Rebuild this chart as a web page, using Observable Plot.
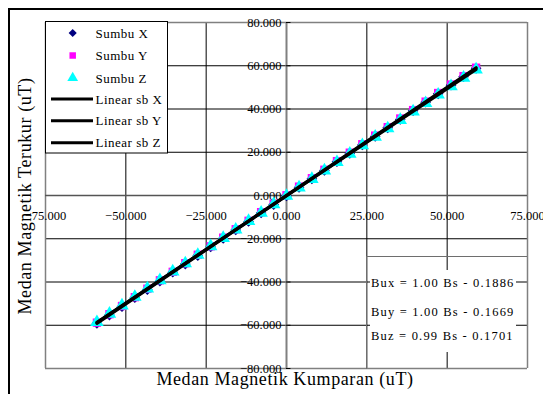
<!DOCTYPE html>
<html><head><meta charset="utf-8">
<script src="https://cdn.jsdelivr.net/npm/d3@7"></script>
<script src="https://cdn.jsdelivr.net/npm/@observablehq/plot@0.6"></script>
<style>
body{margin:0;background:#fff;}
#wrap{position:relative;width:543px;height:394px;overflow:hidden;font-family:"Liberation Serif","Times New Roman",serif;color:#000;}
#wrap > svg.mainplot{position:absolute;left:0;top:0;}
#outer{position:absolute;left:8px;top:8px;width:700px;height:600px;border-left:2.5px solid #000;border-top:2.5px solid #000;}
#wrap > svg#legend{position:absolute;left:45px;top:21px;}
#eqbox{position:absolute;left:366px;top:256px;width:160px;height:112px;border-left:1px solid #6e6e6e;border-top:1px solid #6e6e6e;}
#eqtext{position:absolute;left:370px;top:270px;width:146px;height:82px;background:#fff;}
.eq{position:absolute;left:371px;font-size:12.5px;letter-spacing:1.2px;white-space:nowrap;line-height:14px;}
.title{position:absolute;font-size:18px;letter-spacing:0.6px;line-height:18px;height:18px;text-align:center;white-space:nowrap;}
#xtitle{left:85px;width:400px;top:370px;}
#ytitle{left:-125px;width:300px;top:187px;transform:rotate(-90deg);transform-origin:50% 50%;}
</style></head>
<body><div id="wrap"><div id="outer"></div></div>
<script>
// ---- data ----
const xs = [-59.0,-55.1,-51.2,-47.2,-43.3,-39.4,-35.4,-31.5,-27.6,-23.6,-19.7,-15.8,-11.8,-7.9,-4.0,0.0,3.9,7.9,11.8,15.7,19.7,23.6,27.6,31.5,35.4,39.4,43.3,47.2,51.2,55.1,59.0];
const sumbuX = [-59.1,-55.3,-51.4,-47.3,-43.5,-39.6,-35.5,-31.7,-27.8,-23.8,-19.9,-15.9,-12.0,-8.1,-4.2,-0.2,3.7,7.7,11.6,15.6,19.5,23.4,27.3,31.3,35.2,39.2,43.1,47.0,51.0,54.9,58.8];
const sumbuY = [-58.8,-54.9,-51.1,-47.0,-43.1,-39.2,-35.3,-31.3,-27.4,-23.5,-19.5,-15.6,-11.7,-7.7,-3.8,0.1,4.1,8.0,11.9,15.9,19.8,23.7,27.7,31.6,35.6,39.5,43.4,47.4,51.3,55.2,59.1];
const sumbuZ = [-58.6,-54.7,-50.9,-46.9,-43.0,-39.2,-35.2,-31.4,-27.5,-23.5,-19.7,-15.8,-11.8,-8.0,-4.1,-0.2,3.7,7.6,11.5,15.4,19.3,23.2,27.1,31.0,34.9,38.8,42.7,46.6,50.5,54.4,58.2];
const xTicks = [-75,-50,-25,0,25,50,75];
const yTicks = [-80,-60,-40,-20,0,20,40,60,80];
const legendLabels = ["Sumbu X","Sumbu Y","Sumbu Z","Linear sb X","Linear sb Y","Linear sb Z"];
const equations = ["Bux = 1.00 Bs - 0.1886","Buy = 1.00 Bs - 0.1669","Buz = 0.99 Bs - 0.1701"];
const xTitle = "Medan Magnetik Kumparan (uT)";
const yTitle = "Medan Magnetik Terukur (uT)";

const fmt = d3.format(".3f");
const rows = (ys) => xs.map((x, i) => ({x, y: ys[i]}));
const dX = rows(sumbuX), dY = rows(sumbuY), dZ = rows(sumbuZ);
const font = "'Liberation Serif', 'Times New Roman', serif";
const gray = "#808080";

const chart = Plot.plot({
  width: 543, height: 394,
  marginLeft: 45, marginRight: 16, marginTop: 22, marginBottom: 26,
  x: {domain: [-75, 75], axis: null},
  y: {domain: [-80, 80], axis: null},
  style: {fontFamily: font, background: "transparent", overflow: "visible"},
  marks: [
    Plot.ruleX(xTicks.filter(d => Math.abs(d) !== 75 && d !== 0), {stroke: "#000", strokeWidth: 1}),
    Plot.ruleY(yTicks.filter(d => Math.abs(d) !== 80 && d !== 0), {stroke: "#000", strokeWidth: 1}),
    Plot.ruleX(xTicks.filter(d => Math.abs(d) === 75), {stroke: gray, strokeWidth: 1.5}),
    Plot.ruleY(yTicks.filter(d => Math.abs(d) === 80), {stroke: gray, strokeWidth: 1.5}),
    Plot.ruleY([0], {stroke: "#555", strokeWidth: 1.5}),
    Plot.ruleX([0], {stroke: gray, strokeWidth: 2}),
    Plot.ruleY(yTicks, {x1: 0, x2: 1.4, stroke: "#000", strokeWidth: 1}),
    Plot.text(xTicks, {x: d => d, y: 0, text: d => fmt(d), dy: 20, fontSize: 12.5, fontFamily: font, fill: "#000", ariaLabel: "ticklabel"}),
    Plot.text(yTicks, {x: 0, y: d => d, text: d => fmt(d), dx: -5, textAnchor: "end", fontSize: 12.5, fontFamily: font, fill: "#000", ariaLabel: "ticklabel"}),
    Plot.dot(dX, {x: "x", y: "y", symbol: "diamond2", r: 4.8, fill: "#000080", stroke: "none"}),
    Plot.dot(dY, {x: "x", y: "y", symbol: "square", r: 4.7, fill: "#ff00ff", stroke: "none"}),
    Plot.dot(dZ, {x: "x", y: "y", symbol: "triangle", r: 5, fill: "#00ffff", stroke: "none"}),
    Plot.linearRegressionY(dX, {x: "x", y: "y", stroke: "#000", strokeWidth: 3, ci: 0}),
    Plot.linearRegressionY(dY, {x: "x", y: "y", stroke: "#000", strokeWidth: 3, ci: 0}),
    Plot.linearRegressionY(dZ, {x: "x", y: "y", stroke: "#000", strokeWidth: 3, ci: 0})
  ]
});
chart.classList.add("mainplot");
d3.select(chart).selectAll("g[aria-label='ticklabel'] text").style("letter-spacing", "0.4px");
const wrap = document.getElementById("wrap");
wrap.appendChild(chart);

// axis titles
d3.select(wrap).append("div").attr("class", "title").attr("id", "xtitle").text(xTitle);
d3.select(wrap).append("div").attr("class", "title").attr("id", "ytitle").text(yTitle);

// legend
const lg = d3.select(wrap).append("svg").attr("id", "legend").attr("width", 124).attr("height", 133)
  .style("font-family", font);
lg.append("rect").attr("x", 0.5).attr("y", 0.5).attr("width", 122).attr("height", 131.5)
  .attr("fill", "#fff").attr("stroke", "#000");
const ly = [12, 34.5, 57, 78, 99.7, 121.7];
const symbols = [d3.symbolDiamond2, d3.symbolSquare, d3.symbolTriangle];
const symColors = ["#000080", "#ff00ff", "#00ffff"];
legendLabels.forEach((lab, i) => {
  if (i < 3) {
    lg.append("path").attr("transform", `translate(27.7,${ly[i]})`)
      .attr("d", d3.symbol(symbols[i], i === 2 ? 50 : 42)()).attr("fill", symColors[i]);
  } else {
    lg.append("line").attr("x1", 6).attr("x2", 48).attr("y1", ly[i]).attr("y2", ly[i])
      .attr("stroke", "#000").attr("stroke-width", 3);
  }
  lg.append("text").attr("x", 50.5).attr("y", ly[i]).attr("dy", "0.35em")
    .attr("font-size", 13).attr("letter-spacing", 0.5).text(lab);
});

// equation box
d3.select(wrap).append("div").attr("id", "eqbox");
d3.select(wrap).append("div").attr("id", "eqtext");
const eqY = [283, 311.5, 336];
equations.forEach((t, i) => {
  d3.select(wrap).append("div").attr("class", "eq").style("top", (eqY[i] - 7) + "px").text(t);
});
</script></body></html>
